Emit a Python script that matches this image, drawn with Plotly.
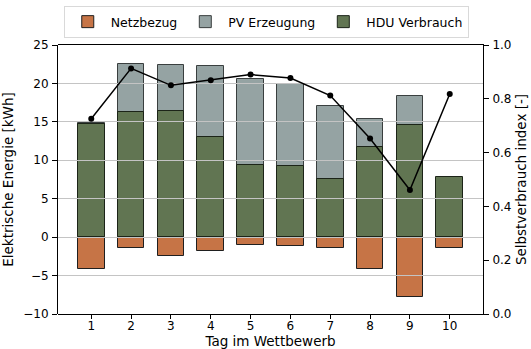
import plotly.graph_objects as go

# Tagesbilanz im Wettbewerb (kWh) und Selbstverbrauchsindex
tage = [1, 2, 3, 4, 5, 6, 7, 8, 9, 10]
pv_erzeugung = [14.8, 22.5, 22.35, 22.3, 20.6, 19.95, 17.0, 15.4, 18.3, None]
hdu_verbrauch = [14.7, 16.3, 16.4, 13.0, 9.4, 9.25, 7.6, 11.75, 14.55, 7.8]
netzbezug = [-4.1, -1.45, -2.5, -1.75, -1.05, -1.2, -1.45, -4.15, -7.85, -1.45]
selbstverbrauch = [0.726, 0.913, 0.850, 0.869, 0.890, 0.877, 0.812, 0.652, 0.461, 0.818]

FONT = "DejaVu Sans"
XRANGE = [0.165, 10.835]
BAR_W = 0.67

fig = go.Figure()

fig.add_trace(go.Bar(
    x=tage, y=netzbezug, name="Netzbezug", width=BAR_W,
    marker=dict(color="#c67446", line=dict(color="#1f1f1f", width=1)),
    xaxis="x", yaxis="y",
))
fig.add_trace(go.Bar(
    x=tage, y=pv_erzeugung, name="PV Erzeugung", width=BAR_W,
    marker=dict(color="#95a3a3", line=dict(color="#3a3f3f", width=1)),
    xaxis="x", yaxis="y",
))
fig.add_trace(go.Bar(
    x=tage, y=hdu_verbrauch, name="HDU Verbrauch", width=BAR_W,
    marker=dict(color="#617552", line=dict(color="#1c2418", width=1)),
    xaxis="x", yaxis="y",
))

# Overlay subplot: grid lines above the bars, index line on the right axis
fig.add_trace(go.Scatter(
    x=[], y=[], xaxis="x2", yaxis="y2", showlegend=False, hoverinfo="skip",
))
fig.add_trace(go.Scatter(
    x=tage, y=selbstverbrauch, mode="lines+markers", showlegend=False,
    line=dict(color="black", width=1.5),
    marker=dict(color="black", size=6),
    xaxis="x2", yaxis="y3",
))

tick_font = dict(family=FONT, size=12, color="black")
title_font = dict(family=FONT, size=13.5, color="black")

fig.update_layout(
    width=531, height=349,
    margin=dict(l=58, r=48, t=45, b=35, autoexpand=False),
    paper_bgcolor="white", plot_bgcolor="rgba(0,0,0,0)",
    barmode="overlay", bargap=0,
    font=dict(family=FONT, size=12, color="black"),
    xaxis=dict(
        domain=[0, 1], anchor="y", range=XRANGE, automargin=True,
        tickvals=tage, ticktext=[str(t) for t in tage],
        ticks="outside", ticklen=4, tickcolor="black", tickfont=tick_font,
        ticklabelstandoff=-3,
        showgrid=False, zeroline=False, showline=False,
        title=dict(text="Tag im Wettbewerb", font=title_font, standoff=4),
    ),
    yaxis=dict(
        domain=[0, 1], anchor="x", range=[-10, 25], dtick=5, automargin=True,
        ticks="outside", ticklen=5, tickcolor="black", tickfont=tick_font,
        ticklabelstandoff=1,
        showgrid=False, zeroline=False, showline=True, linecolor="black", linewidth=1,
        title=dict(text="Elektrische Energie [kWh]", font=title_font, standoff=6),
    ),
    xaxis2=dict(
        domain=[0, 1], anchor="y2", range=XRANGE, automargin=False,
        showticklabels=False, ticks="", showgrid=False, zeroline=False,
        showline=True, mirror=True, linecolor="black", linewidth=1,
    ),
    yaxis2=dict(
        domain=[0, 1], anchor="x2", range=[-10, 25], automargin=False,
        tickvals=[-5, 0, 5, 10, 15, 20], showticklabels=False, ticks="",
        showgrid=True, gridcolor="#c4c4c4", gridwidth=1,
        zeroline=False, showline=False,
    ),
    yaxis3=dict(
        overlaying="y2", anchor="x2", side="right", range=[0, 1], automargin=True,
        tickvals=[0, 0.2, 0.4, 0.6, 0.8, 1.0], tickformat=".1f",
        ticks="outside", ticklen=5, tickcolor="black", tickfont=tick_font,
        ticklabelstandoff=1,
        showgrid=False, zeroline=False, showline=True, linecolor="black", linewidth=1,
        title=dict(text="Selbstverbrauch index [-]", font=title_font, standoff=6),
    ),
    legend=dict(
        orientation="h", x=0.49, xanchor="center", y=1.0855, yanchor="middle",
        bordercolor="#d9d9d9", borderwidth=1, bgcolor="white",
        font=dict(family=FONT, size=12.5, color="black"),
        itemwidth=36, traceorder="normal",
    ),
)

fig.write_html("out.html")
